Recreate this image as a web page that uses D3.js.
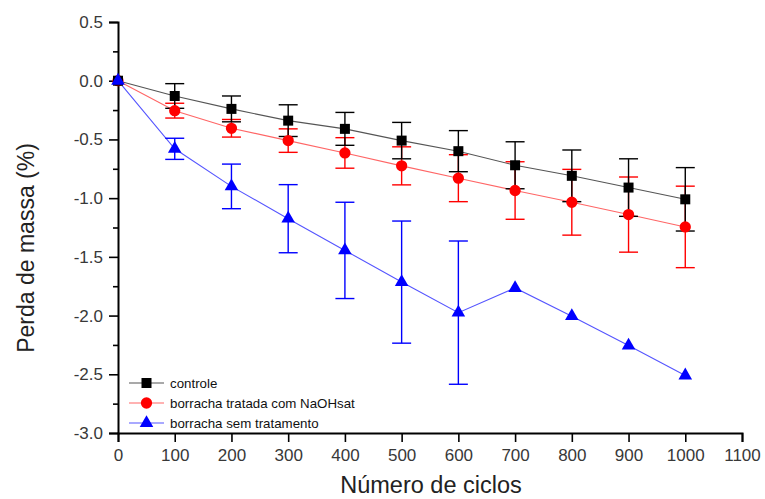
<!DOCTYPE html>
<html>
<head>
<meta charset="utf-8">
<script src="https://cdn.jsdelivr.net/npm/d3@7"></script>
<style>
  body { margin: 0; background: #fff; }
  text { font-family: "Liberation Sans", Arial, sans-serif; }
</style>
</head>
<body>
<svg></svg>
<script>
var margin = {top: 22, right: 23, bottom: 66, left: 118};
var width = 765, height = 499;
var visWidth = width - margin.left - margin.right;
var visHeight = height - margin.top - margin.bottom;

// data
var ciclos = [0, 100, 200, 300, 400, 500, 600, 700, 800, 900, 1000];
var controle = [0, -0.13, -0.24, -0.34, -0.41, -0.51, -0.60, -0.72, -0.81, -0.91, -1.01];
var controleErr = [0, 0.105, 0.11, 0.135, 0.14, 0.155, 0.175, 0.2, 0.22, 0.245, 0.27];
var tratada = [0, -0.255, -0.405, -0.51, -0.615, -0.725, -0.83, -0.935, -1.035, -1.14, -1.245];
var tratadaErr = [0, 0.063, 0.075, 0.1, 0.13, 0.162, 0.2, 0.245, 0.28, 0.32, 0.347];
var semTrat = [0, -0.58, -0.9, -1.175, -1.445, -1.715, -1.975, -1.765, -2.005, -2.255, -2.51];
var semTratErr = [0, 0.09, 0.19, 0.29, 0.41, 0.52, 0.61, 0, 0, 0, 0];
var xTicks = [0, 100, 200, 300, 400, 500, 600, 700, 800, 900, 1000, 1100];
var yTicks = [0.5, 0.0, -0.5, -1.0, -1.5, -2.0, -2.5, -3.0];
var yMinor = [0.25, -0.25, -0.75, -1.25, -1.75, -2.25, -2.75];

var series = [
  {name: "borracha tratada com NaOHsat", y: tratada, err: tratadaErr, color: "#ff0000", line: "#ff6666", symbol: d3.symbolCircle, size: 100},
  {name: "controle", y: controle, err: controleErr, color: "#000000", line: "#555555", symbol: d3.symbolSquare, size: 100},
  {name: "borracha sem tratamento", y: semTrat, err: semTratErr, color: "#0000ff", line: "#5555ff", symbol: d3.symbolTriangle, size: 80}
];
var legendOrder = [1, 0, 2];

var svg = d3.select("svg")
  .attr("width", width)
  .attr("height", height);

var g = svg.append("g")
  .attr("transform", "translate(" + margin.left + "," + margin.top + ")");

var x = d3.scaleLinear().domain([0, 1100]).range([0, visWidth]);
var y = d3.scaleLinear().domain([0.5, -3.0]).range([0, visHeight]);

// axes
var xAxis = g.append("g")
  .attr("transform", "translate(0," + visHeight + ")")
  .call(d3.axisBottom(x).tickValues(xTicks).tickSize(9).tickPadding(7).tickFormat(d3.format("d")));
var yAxis = g.append("g")
  .call(d3.axisLeft(y).tickValues(yTicks).tickSize(9).tickPadding(6)
    .tickFormat(function(d) { return d.toFixed(1); }));
g.append("g")
  .call(d3.axisLeft(y).tickValues(yMinor).tickSize(5).tickFormat(""))
  .select(".domain").remove();

g.selectAll(".domain").attr("stroke", "#000").attr("stroke-width", 2);
g.selectAll(".tick line").attr("stroke", "#000").attr("stroke-width", 1.6);
xAxis.selectAll("text").attr("font-size", 17).attr("fill", "#383838");
yAxis.selectAll("text").attr("font-size", 17).attr("fill", "#383838");

// axis titles
svg.append("text")
  .attr("x", 431)
  .attr("y", 493)
  .attr("text-anchor", "middle")
  .attr("font-size", 23.5)
  .attr("fill", "#222")
  .text("Número de ciclos");
svg.append("text")
  .attr("transform", "translate(34,248) rotate(-90)")
  .attr("text-anchor", "middle")
  .attr("font-size", 23)
  .attr("fill", "#222")
  .text("Perda de massa (%)");

var line = d3.line()
  .x(function(d) { return x(d[0]); })
  .y(function(d) { return y(d[1]); });

// lines first
series.forEach(function(s) {
  var pts = ciclos.map(function(c, i) { return [c, s.y[i]]; });
  g.append("path")
    .datum(pts)
    .attr("fill", "none")
    .attr("stroke", s.line)
    .attr("stroke-width", 1.1)
    .attr("d", line);
});

// error bars and markers
series.forEach(function(s) {
  var pts = ciclos.map(function(c, i) { return {x: c, y: s.y[i], e: s.err[i]}; })
    .filter(function(d) { return d.e > 0; });
  var eb = g.append("g").attr("stroke", s.color).attr("stroke-width", 1.4).attr("fill", "none");
  eb.selectAll(".v").data(pts).enter().append("line")
    .attr("x1", function(d) { return x(d.x); })
    .attr("x2", function(d) { return x(d.x); })
    .attr("y1", function(d) { return y(d.y + d.e); })
    .attr("y2", function(d) { return y(d.y - d.e); });
  eb.selectAll(".top").data(pts).enter().append("line")
    .attr("x1", function(d) { return x(d.x) - 9.5; })
    .attr("x2", function(d) { return x(d.x) + 9.5; })
    .attr("y1", function(d) { return y(d.y + d.e); })
    .attr("y2", function(d) { return y(d.y + d.e); });
  eb.selectAll(".bot").data(pts).enter().append("line")
    .attr("x1", function(d) { return x(d.x) - 9.5; })
    .attr("x2", function(d) { return x(d.x) + 9.5; })
    .attr("y1", function(d) { return y(d.y - d.e); })
    .attr("y2", function(d) { return y(d.y - d.e); });
});

series.forEach(function(s) {
  g.append("g").selectAll("path")
    .data(ciclos.map(function(c, i) { return [c, s.y[i]]; }))
    .enter().append("path")
    .attr("d", d3.symbol().type(s.symbol).size(s.size))
    .attr("fill", s.color)
    .attr("transform", function(d) { return "translate(" + x(d[0]) + "," + y(d[1]) + ")"; });
});

// legend
var legend = svg.append("g").attr("transform", "translate(129,383)");
legendOrder.forEach(function(idx, k) {
  var s = series[idx];
  var row = legend.append("g").attr("transform", "translate(0," + (k * 20) + ")");
  row.append("line").attr("x1", 0).attr("x2", 35).attr("y1", 0).attr("y2", 0)
    .attr("stroke", s.line).attr("stroke-width", 1.1);
  row.append("path")
    .attr("d", d3.symbol().type(s.symbol).size(s.size))
    .attr("fill", s.color)
    .attr("transform", "translate(17.5,0)");
  row.append("text")
    .attr("x", 41).attr("y", 5)
    .attr("font-size", 13.3)
    .attr("fill", "#111")
    .text(s.name);
});
</script>
</body>
</html>
